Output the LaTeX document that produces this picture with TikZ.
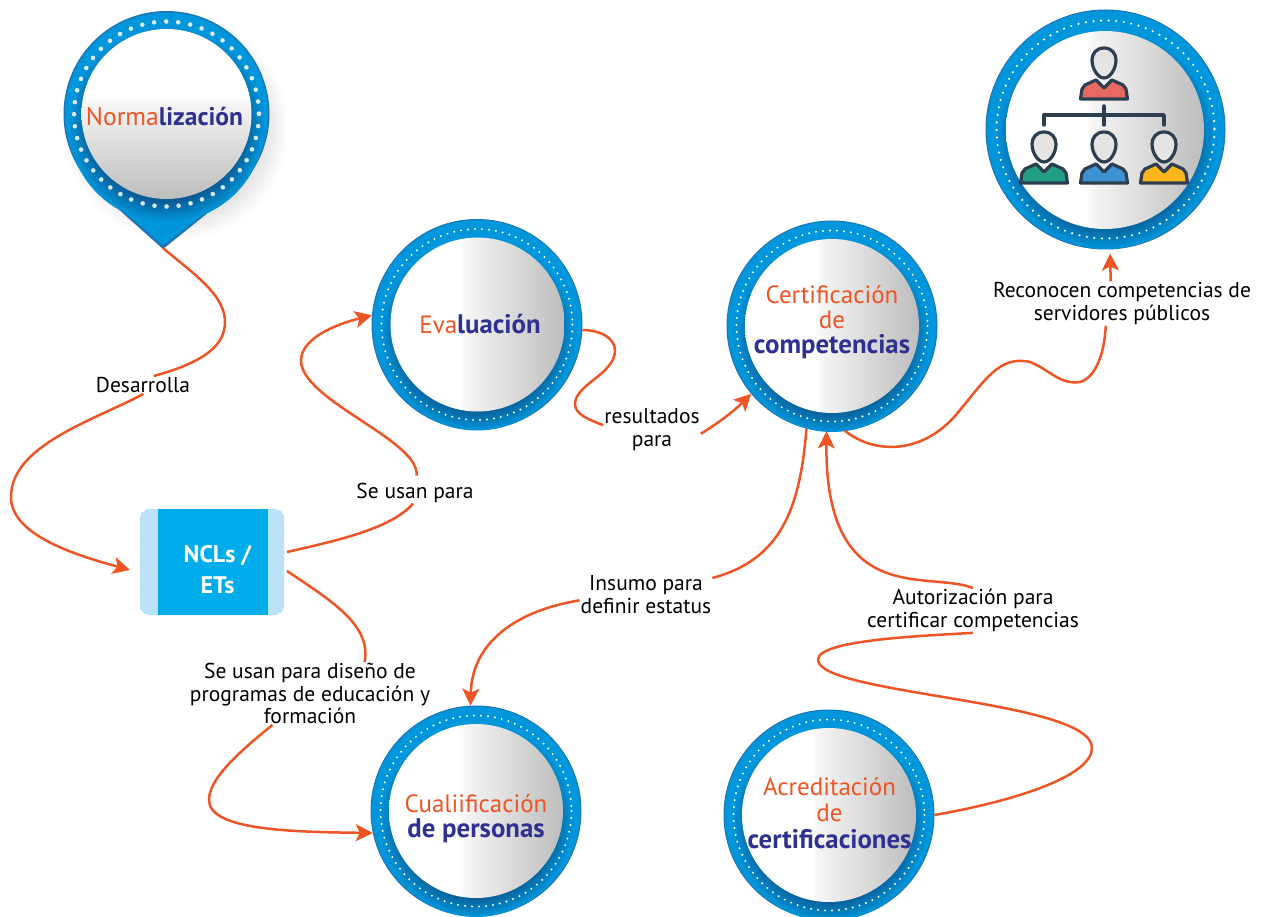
\documentclass[tikz,border=0pt]{standalone}
\usepackage{fontspec}
\setmainfont{PT Sans}
\usepackage{xcolor}
\usetikzlibrary{arrows.meta,calc}
\definecolor{wireorange}{HTML}{EE5424}
\definecolor{titlenavy}{HTML}{2E3192}
\definecolor{ringblue}{HTML}{0096DB}
\definecolor{ringedge}{HTML}{1F74B6}
\definecolor{ringdark}{HTML}{0A5B94}
\definecolor{boxblue}{HTML}{00ACEA}
\definecolor{boxside}{HTML}{BBE2F9}
\definecolor{iconline}{HTML}{2C3E50}
\definecolor{iconhead}{HTML}{E6E4E2}
\definecolor{iconred}{HTML}{E8695F}
\definecolor{icongreen}{HTML}{1F9E82}
\definecolor{iconblue}{HTML}{3D93D1}
\definecolor{iconyellow}{HTML}{FBB61B}
\pgfdeclarehorizontalshading{discshade}{100bp}{color(0bp)=(white); color(45bp)=(white);
  color(47bp)=(white!96!black); color(75bp)=(white!74!black); color(100bp)=(white!74!black)}
\pgfdeclareradialshading{ringshade}{\pgfpointorigin}{color(0bp)=(ringdark); color(19.5bp)=(ringdark);
  color(25bp)=(ringblue); color(50bp)=(ringblue)}
\pgfdeclareradialshading{softshade}{\pgfpointorigin}{color(0bp)=(black!10); color(20bp)=(black!10);
  color(25bp)=(white); color(50bp)=(white)}
\tikzset{
  ringnode/.style = {circle, inner sep=0pt, minimum size=#1, fill=ringblue, draw=ringedge, line width=1pt},
  discnode/.style = {circle, inner sep=0pt, minimum size=#1, shading=discshade},% disco con degradado
  ttl/.style = {align=center, inner sep=0pt, font=\fontsize{25}{25}\selectfont},
  ringglow/.style = {shading=ringshade},
  dotline/.style = {white, line width=#1, line cap=round},
  wire/.style = {draw=wireorange, line width=2.5pt},
  lbl/.style = {align=center, inner sep=1pt, font=\fontsize{21.5}{22.5}\selectfont},
  pics/person/.style = {code={
    \path[draw=iconline, line width=3.2pt, fill=#1, line join=round]
      (-23.5,36) -- (-22,26) -- (-19,22) -- (-8,17) -- (0,25) -- (8,17) -- (19,22) -- (22,26) -- (23.5,36) -- cycle;
    \path[draw=iconline, line width=3.2pt, fill=iconhead]
      (0,-15) .. controls (8,-15) and (12,-9) .. (12,-3) .. controls (12,6) and (6,15) .. (0,15)
      .. controls (-6,15) and (-12,6) .. (-12,-3) .. controls (-12,-9) and (-8,-15) .. (0,-15) -- cycle;
  }}
}
\newcommand{\orangetxt}[1]{\textcolor{wireorange}{#1}}
\newcommand{\navytxt}[1]{\textcolor{titlenavy}{\fontsize{26.8}{25}\selectfont\bfseries #1}}

\begin{document}
\begin{tikzpicture}[x=1pt,y=-1pt,>={Stealth[length=17pt,width=17pt,inset=4pt]}]
    \useasboundingbox (0,0) rectangle (1267,917);
    % marcador
    \shade[shading=softshade] (176,128) circle (113);
    \fill[ringedge] (163,249) -- ($(166.5,114)+(131:103)$) arc[start angle=131,end angle=411,radius=103] -- cycle;
    \coordinate (pintip) at (163,248);
    \fill[ringblue] (163,245.5) -- ($(166.5,114)+(131:101.5)$) arc[start angle=131,end angle=411,radius=101.5] -- cycle;
    \shade[shading=ringshade] (166.5,124) circle (98);
    \draw[dotline=4.6pt, dash pattern=on 0pt off 12.1pt, opacity=.85] (166.5,114) circle (92.5);
    \node[discnode=170pt, shading angle=-90] (norm) at (166.5,114) {};
    \node[ttl, font=\fontsize{25.5}{25}\selectfont] (normtxt) at (164.5,117) {\orangetxt{Norma}\textcolor{titlenavy}{\bfseries lización}};

    % anillos
    \foreach \nm/\cx/\cy in {evalring/477/324.5, certring/832/326, cualring/476/811, acrering/829/815}{
      \node[ringnode=210pt] (\nm) at (\cx,\cy) {};
      \shade[ringglow] (\cx,\cy+9) circle (97);
      \draw[dotline=2.2pt, dash pattern=on 0pt off 7pt] (\cx,\cy) circle (95.5);
    }
    \node[discnode=174pt] (eval) at (477.5,324.5) {};
    \node[discnode=174pt] (cert) at (832,326) {};
    \node[discnode=174pt] (cual) at (476,811) {};
    \node[discnode=174pt] (acre) at (829,815) {};
    \node[ttl] (evaltxt) at (480,324) {\orangetxt{Eva}\navytxt{luación}};
    \node[ttl] (certtxt) at (832,322) {\orangetxt{Certificación}\\\orangetxt{de}\\\navytxt{competencias}};
    \node[ttl] (cualtxt) at (476,819) {\orangetxt{Cualiificación}\\\navytxt{de personas}};
    \node[ttl] (acretxt) at (829.5,813) {\orangetxt{Acreditación}\\[1.5pt]\orangetxt{de}\\[1.5pt]\navytxt{certificaciones}};

    % organigrama
    \node[ringnode=239pt] (orgring) at (1105.5,129.5) {};
    \shade[ringglow] (1105.5,139) circle (110);
    \draw[dotline=2.4pt, dash pattern=on 0pt off 7.6pt] (1105.5,129.5) circle (109);
    \node[discnode=198pt] (org) at (1105,130) {};
    \draw[iconline, line width=3.4pt, line cap=round, line join=round]
      (1044,125) -- (1044,115) -- (1164,115) -- (1164,125) (1104,106) -- (1104,125);
    \pic at (1104,63) {person=iconred};
    \pic at (1044,147) {person=icongreen};
    \pic at (1104,147) {person=iconblue};
    \pic at (1164,147) {person=iconyellow};

    % caja
    \node[draw=boxblue!45, dashed, fill=boxside, rounded corners=10pt, minimum width=144pt, minimum height=106pt, inner sep=0pt, outer sep=3pt] (ncl) at (212,562) {};
    \node[fill=boxblue, minimum width=110pt, minimum height=106pt, inner sep=0pt] (nclbox) at (213,562) {};
    \node[align=center, inner sep=0pt, text=white, font=\fontsize{24}{31}\selectfont\bfseries] (ncltxt) at (217.5,570) {NCLs /\\ETs};

    % textos
    \node[lbl] (desa) at (143,385) {Desarrolla};
    \node[lbl] (seusan) at (415,492.5) {Se usan para};
    \node[lbl] (seusand) at (310,693.5) {Se usan para diseño de\\programas de educación y\\formación};
    \node[lbl] (result) at (652,429.5) {resultados\\para};
    \node[lbl] (insumo) at (646,594.5) {Insumo para\\definir estatus};
    \node[lbl] (autori) at (973,610.5) {Autorización para\\certificar competencias};
    \node[lbl] (recon) at (1122,303.5) {Reconocen competencias de\\servidores públicos};

    % conectores
    \draw[wire] (pintip) .. controls (195,275) and (225,295) .. (225,322) .. controls (225,345) and (205,362) .. (desa.40);
    \draw[wire,->] (desa.-88) .. controls (95,420) and (11,445) .. (11,497) .. controls (11,535) and (75,555) .. ([yshift=-8pt,xshift=-7pt]ncl.west);
    \draw[wire] ([yshift=10pt]ncl.east) .. controls (340,540) and (392,528) .. (seusan.-100);
    \draw[wire,->, shorten <=6pt] (seusan.85) .. controls (420,440) and (300,400) .. (301,360) .. controls (302,335) and (345,322) .. (evalring.175);
    \draw[wire] ([yshift=-9pt]ncl.east) .. controls (330,600) and (372,625) .. (seusand.30);
    \draw[wire,->] (seusand.-140) .. controls (235,755) and (209,780) .. (209,800) .. controls (209,830) and (290,832) .. (cualring.192);
    \draw[wire] (evalring.-3) .. controls (600,330) and (616,338) .. (615,352) .. controls (613,375) and (574,385) .. (575,405) .. controls (576,415) and (590,420) .. (result.175);
    \draw[wire,->] (result.-5) .. controls (720,422) and (735,410) .. (certring.220);
    \draw[wire] (certring.256) .. controls (800,510) and (780,560) .. (insumo.14);
    \draw[wire,->] (insumo.-175) .. controls (520,610) and (472,640) .. (cualring.93);
    \draw[wire] (acrering.0) .. controls (1020,800) and (1092,775) .. (1092,748) .. controls (1092,700) and (820,695) .. (818,660) .. controls (817,640) and (920,636) .. (autori.-90);
    \draw[wire,->] (autori.90) .. controls (930,570) and (825,610) .. (certring.267);
    \draw[wire] (certring.277) .. controls (875,455) and (925,455) .. (960,410) .. controls (985,380) and (1000,355) .. (1030,362) .. controls (1050,370) and (1060,385) .. (1080,382) .. controls (1095,378) and (1103,355) .. (1105,335) -- (recon.-126);
    \draw[wire,->, shorten >=4pt] (recon.117) -- ([xshift=4.5pt]orgring.270);
\end{tikzpicture}
\end{document}
